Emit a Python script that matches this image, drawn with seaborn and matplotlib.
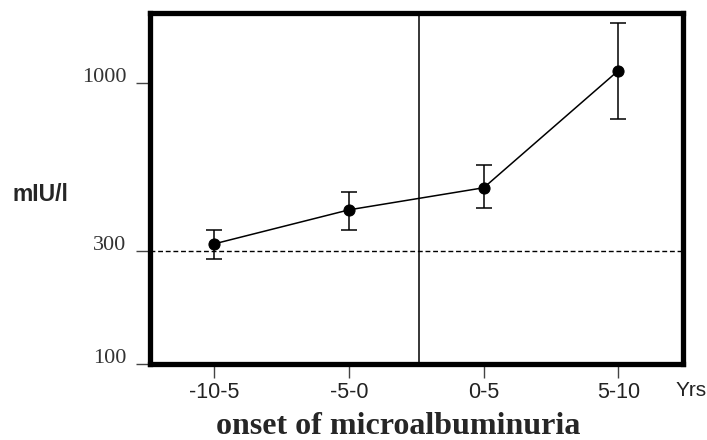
import numpy as np
import matplotlib
matplotlib.use("Agg")
import matplotlib.pyplot as plt
import matplotlib.transforms as mtransforms
import seaborn as sns


# ==================================================
# DATA
# ==================================================
periods = ["-10-5", "-5-0", "0-5", "5-10"]
mean_level = [316, 403, 472, 1092]
err_low = [277, 350, 408, 771]
err_high = [350, 457, 554, 1537]
y_ticks = [100, 300, 1000]
reference_level = 300
onset_pos = 1.52


# ==================================================
# Y SCALE (log, compressed below 300 as in the source)
# ==================================================
LG_BREAK = np.log10(300)
K_LOW, K_HIGH = 239.0, 325.0


def fwd(v):
    lg = np.log10(np.clip(v, 1e-9, None))
    return np.where(lg < LG_BREAK,
                    (lg - 2) * K_LOW,
                    (LG_BREAK - 2) * K_LOW + (lg - LG_BREAK) * K_HIGH)


def inv(p):
    p = np.asarray(p, dtype=float)
    brk = (LG_BREAK - 2) * K_LOW
    lg = np.where(p < brk, p / K_LOW + 2, (p - brk) / K_HIGH + LG_BREAK)
    return 10 ** lg


# ==================================================
# STYLE
# ==================================================
sns.set_style("ticks")
plt.rcParams["font.family"] = ["Liberation Sans", "DejaVu Sans"]

fig = plt.figure(figsize=(7.07, 4.4), dpi=100)
ax = fig.add_axes([0.212, 0.173, 0.754, 0.797])

x = np.arange(len(periods))
mean_arr = np.array(mean_level)
yerr = [mean_arr - np.array(err_low), np.array(err_high) - mean_arr]

ax.errorbar(x, mean_arr, yerr=yerr, fmt="none", ecolor="black",
            elinewidth=1.1, capsize=5.5, capthick=1.1, zorder=3)
sns.lineplot(x=x, y=mean_arr, ax=ax, color="black", linewidth=1.1,
             marker="o", markersize=8, markeredgecolor="black",
             markerfacecolor="black", zorder=4)

ax.axhline(reference_level, color="black", linestyle=(0, (3.5, 2)),
           linewidth=1.0, zorder=2)
ax.axvline(onset_pos, color="black", linewidth=1.1, zorder=2)

ax.set_yscale("function", functions=(fwd, inv))
ax.set_ylim(100, 1647)
ax.set_xlim(-0.48, 3.48)

ax.set_yticks(y_ticks)
ax.set_yticklabels([str(t) for t in y_ticks], family="Liberation Serif",
                   fontsize=16, color="#333333")
ax.yaxis.set_minor_locator(plt.NullLocator())
ax.set_xticks(x)
ax.set_xticklabels(periods, fontsize=15.5, color="#222222")

ax.tick_params(axis="y", direction="out", length=10, width=1.0,
               color="#444444", pad=7, left=True)
ax.tick_params(axis="x", direction="out", length=10, width=1.0,
               color="#444444", pad=3, bottom=True)

# y labels sit a little above their ticks in the source
shift = mtransforms.ScaledTranslation(0, 6 / 72, fig.dpi_scale_trans)
for lab in ax.get_yticklabels():
    lab.set_transform(lab.get_transform() + shift)

for side in ["left", "right", "top", "bottom"]:
    ax.spines[side].set_visible(True)
    ax.spines[side].set_color("black")
    ax.spines[side].set_linewidth(3.8)

ax.set_xlabel("")
ax.set_ylabel("")
fig.text(0.563, 0.0136, "onset of microalbuminuria", family="Liberation Serif",
         fontweight="bold", fontsize=23, ha="center", va="baseline")
fig.text(0.018, 0.558, "mIU/l", fontsize=16.5, fontweight="bold",
         ha="left", va="center")
fig.text(0.955, 0.112, "Yrs", fontsize=15, ha="left", va="center",
         color="#222222")

fig.savefig("out.png", dpi=100)
